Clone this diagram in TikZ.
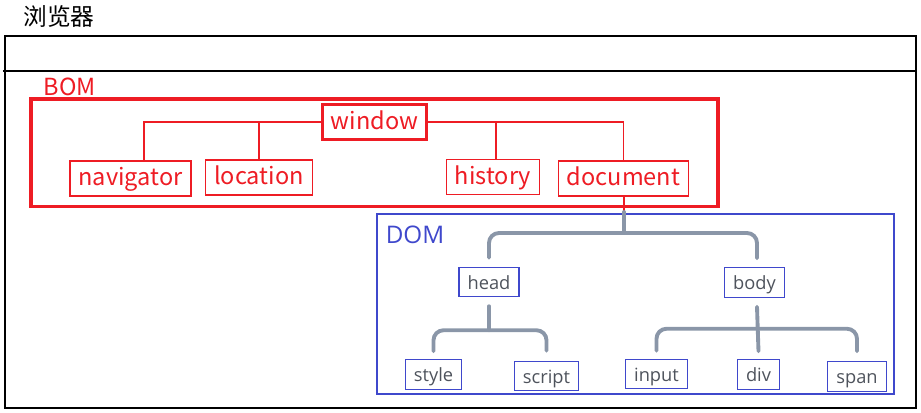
\documentclass[tikz,border=0pt]{standalone}
\usepackage{fontspec}
\usepackage{tikz}
\usetikzlibrary{calc}
\newfontfamily\cjkfont{Noto Sans CJK SC}
\newfontfamily\domfont{Open Sans}
\definecolor{bomred}{HTML}{EE1C24}
\definecolor{domblue}{HTML}{3F48CC}
\definecolor{treegray}{HTML}{8A96A8}
\definecolor{textgray}{HTML}{4E535C}

\tikzset{
  bomnode/.style={draw=bomred, line width=0.6pt, text=bomred, inner xsep=0.17cm,
    text height=0.95em, text depth=0.12em, minimum height=0.7cm,
    font=\cjkfont\fontsize{13.4}{15}\selectfont},
  bomline/.style={draw=bomred, line width=0.6pt},
  domnode/.style={draw=domblue, line width=0.7pt, text=textgray, inner xsep=0.17cm,
    text height=0.9em, text depth=0.1em, minimum height=0.54cm,
    font=\domfont\fontsize{10.4}{12}\selectfont},
  tree/.style={draw=treegray, line width=2.2pt, rounded corners=0.2cm, line cap=round}
}

\begin{document}
\begin{tikzpicture}[x=0.02cm,y=-0.02cm]
\useasboundingbox (0,0) rectangle (921,413);
\node (title) at (59,16) {\cjkfont\fontsize{13.5}{15}\selectfont 浏览器};
\draw[line width=0.6pt] (5,36) rectangle (916,408);
\draw[line width=0.6pt] (3,71) -- (916,71);

% BOM
\node[text=bomred, font=\cjkfont\fontsize{13.4}{15}\selectfont] (bomlabel) at (70,87) {BOM};
\draw[draw=bomred, line width=2pt] (31,99) rectangle (718,206.5);
\node[bomnode, line width=2pt] (win) at (374.5,122) {window};
\node[bomnode] (nav) at (130.5,178.5) {navigator};
\node[bomnode] (loc) at (259,177.5) {location};
\node[bomnode] (his) at (493,177) {history};
\node[bomnode] (doc) at (623.5,178.5) {document};
\draw[bomline] (win.west) -| ([xshift=0.27cm]nav.north);
\draw[bomline] (win.west) -| (loc.north);
\draw[bomline] (win.east) -| ([xshift=0.06cm]his.north);
\draw[bomline] (win.east) -| (doc.north);

% DOM
\draw[draw=domblue, line width=0.7pt] (377,214) rectangle (894,394);
\node[text=domblue, font=\domfont\fontsize{13.8}{16}\selectfont] (domlabel) at (415,235) {DOM};
\coordinate (domtop) at (624,214);
\coordinate (domfork) at (624,233);
\draw[bomline] (doc.south) -- (doc.south -| domtop) -- (domtop);
\node[domnode] (head) at (489,282) {head};
\node[domnode] (body) at (754.5,282.5) {body};
\node[domnode] (style) at (433.5,374.5) {style};
\node[domnode] (script) at (546.5,376) {script};
\node[domnode] (input) at (656.5,374) {input};
\node[domnode] (div) at (758.5,374.5) {div};
\node[domnode] (span) at (857,376.5) {span};

\draw[tree] ([yshift=0.04cm]domtop) -- (domfork);
\draw[tree] ([yshift=0.18cm]head.north) |- (domfork) -| ([xshift=0.05cm,yshift=0.18cm]body.north);
\coordinate (headfork) at ([yshift=-0.66cm]head.south);
\draw[tree] ([yshift=-0.18cm]head.south) -- (headfork);
\draw[tree] ([yshift=0.16cm]style.north) |- (headfork) -| ([yshift=0.2cm]script.north);
\coordinate (bodyfork) at ([xshift=0.05cm,yshift=-0.62cm]body.south);
\draw[tree] ([xshift=0.05cm,yshift=-0.18cm]body.south) -- ([yshift=0.16cm]div.north);
\draw[tree] ([yshift=0.16cm]input.north) |- (bodyfork) -| ([yshift=0.2cm]span.north);
\end{tikzpicture}
\end{document}
